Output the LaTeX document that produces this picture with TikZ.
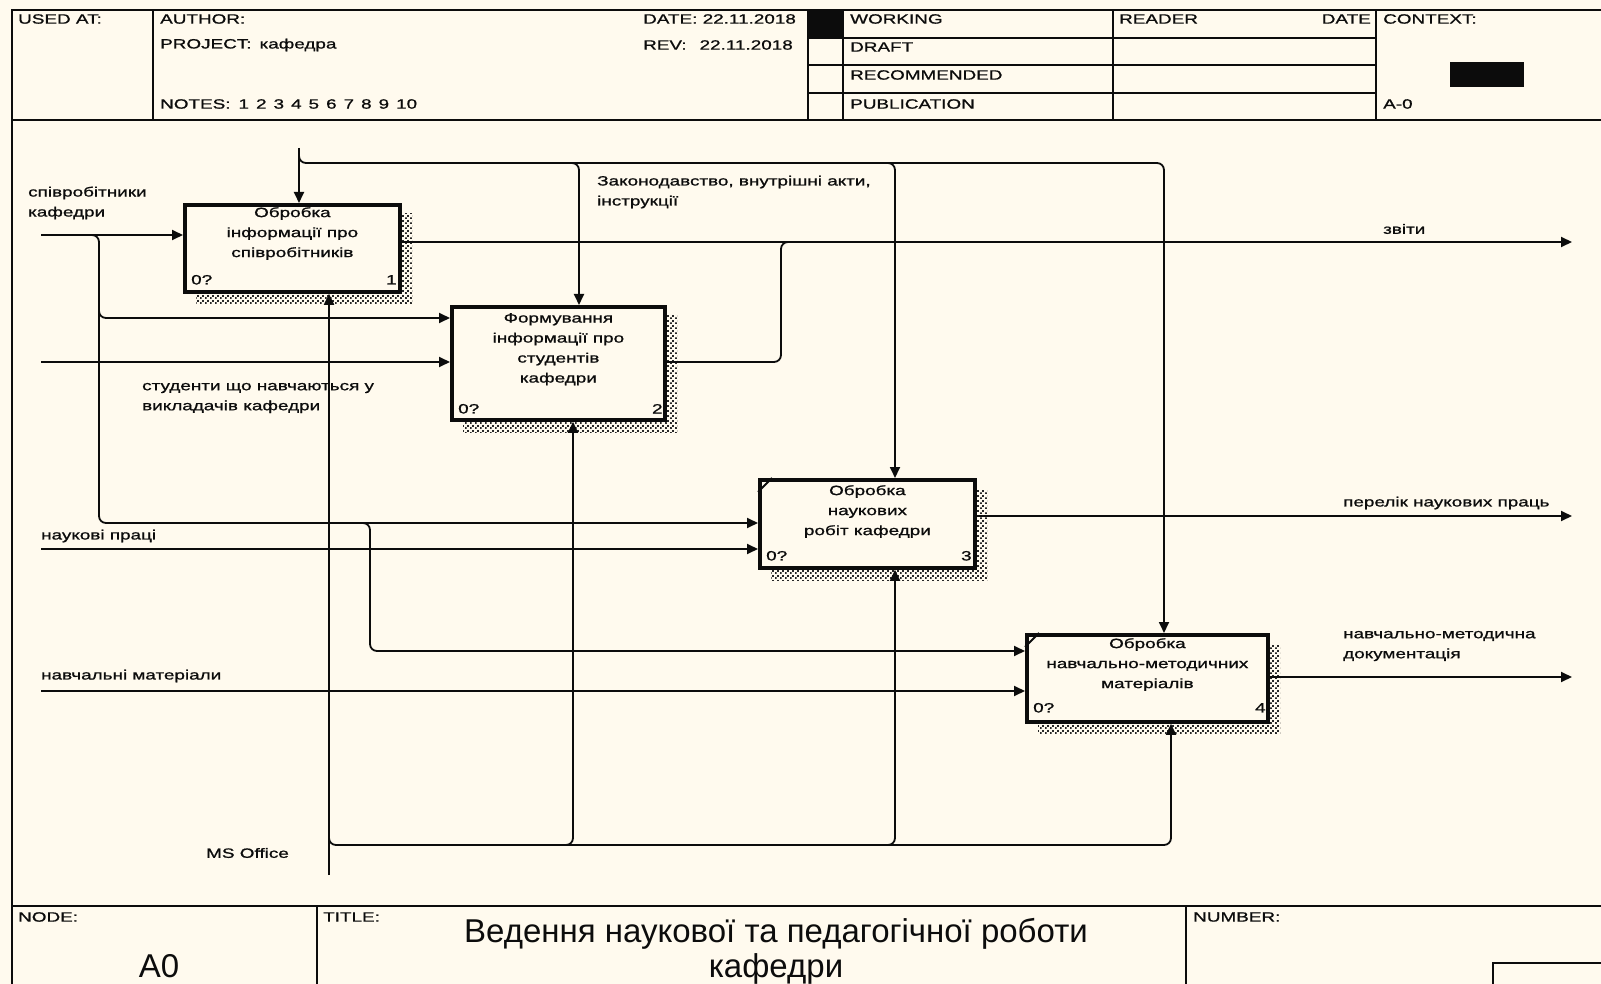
\documentclass[tikz,border=0pt]{standalone}
\usepackage{fontspec}
\setmainfont{Liberation Sans}
\newfontfamily\idf[FakeStretch=1.4,FakeBold=1]{Liberation Sans}
\usetikzlibrary{arrows.meta,patterns,calc}
\definecolor{paper}{RGB}{255,250,238}
\definecolor{ink}{RGB}{12,12,12}
% diagonal dotted shading used for the box shadows
\pgfdeclarepatternformonly{idefshade}{\pgfpointorigin}{\pgfqpoint{5pt}{5pt}}{\pgfqpoint{5pt}{5pt}}{%
  \pgfpathrectangle{\pgfqpoint{0pt}{0pt}}{\pgfqpoint{2pt}{2pt}}%
  \pgfpathrectangle{\pgfqpoint{2.5pt}{2.5pt}}{\pgfqpoint{2pt}{2pt}}%
  \pgfusepath{fill}}
\begin{document}
\begin{tikzpicture}[x=1pt,y=-1pt,
  txt/.style={font=\idf\fontsize{13.5}{20}\selectfont, inner sep=0pt, text=ink},
  lbl/.style={txt, anchor=west, align=left},
  rule/.style={draw=ink, line width=2.2pt},
  proc/.style={draw=ink, line width=3.8pt, fill=paper, anchor=north west, inner sep=0pt},
  shade/.style={pattern=idefshade, pattern color=black!85},
  ln/.style={draw=ink, line width=1.8pt},
  arr/.style={ln, -{Triangle[length=11pt,width=10pt]}},
  rc/.style={rounded corners=7pt}]

% sheet
\useasboundingbox (0,0) rectangle (1601,984);
\fill[paper] (0,0) rectangle (1601,984);

% ---------- header block ----------
\draw[rule] (1601,10) -- (12,10) -- (12,984);
\draw[rule] (12,120) -- (1601,120);
\draw[rule] (153,10) -- (153,120);
\draw[rule] (808,10) -- (808,120);
\draw[rule] (843,10) -- (843,120);
\draw[rule] (1113,10) -- (1113,120);
\draw[rule] (1376,10) -- (1376,120);
\foreach \yy in {38,65,93} \draw[rule] (808,\yy) -- (1376,\yy);
\fill[ink] (808,10) rectangle (843,38);
\fill[ink] (1450,62) rectangle (1524,87);

\node[lbl] (usedat) at (18,19) {USED AT:};
\node[lbl] (author) at (160,19) {AUTHOR:};
\node[lbl] (project) at (160,45) {PROJECT:\hspace{8pt}кафедра};
\node[lbl] (notes) at (160,104) {NOTES:\hspace{8pt}1\hspace{7pt}2\hspace{7pt}3\hspace{7pt}4\hspace{7pt}5\hspace{7pt}6\hspace{7pt}7\hspace{7pt}8\hspace{7pt}9\hspace{7pt}10};
\node[lbl] (date) at (643,19) {DATE: 22.11.2018};
\node[lbl] (rev) at (643,45) {REV:\hspace{13pt}22.11.2018};
\node[lbl] (working) at (850,19) {WORKING};
\node[lbl] (draft) at (850,47) {DRAFT};
\node[lbl] (recom) at (850,75) {RECOMMENDED};
\node[lbl] (public) at (850,104) {PUBLICATION};
\node[lbl] (reader) at (1119,19) {READER};
\node[txt, anchor=east] (rdate) at (1371,19) {DATE};
\node[lbl] (context) at (1383,19) {CONTEXT:};
\node[lbl] (ctxnode) at (1383,104) {A-0};

% ---------- footer block ----------
\draw[rule] (12,906) -- (1601,906);
\draw[rule] (317,906) -- (317,984);
\draw[rule] (1186,906) -- (1186,984);
\draw[rule] (1493,984) -- (1493,963) -- (1601,963);
\node[lbl] (nodehd) at (18,917) {NODE:};
\node[lbl] (titlehd) at (323,917) {TITLE:};
\node[lbl] (numhd) at (1193,917) {NUMBER:};
\node[inner sep=0pt, font=\fontsize{33}{36}\selectfont, text=ink] (nodeno) at (159,966) {A0};
\node[inner sep=0pt, font=\fontsize{33}{35}\selectfont, text=ink, align=center, anchor=north] (title) at (776,918)
  {Ведення наукової та педагогічної роботи\\кафедри};

% ---------- activity boxes ----------
\fill[shade] (398,214) rectangle (412,304);
\fill[shade] (196,290) rectangle (412,304);
\fill[shade] (663,316) rectangle (677,432);
\fill[shade] (463,418) rectangle (677,432);
\fill[shade] (973,489) rectangle (987,580);
\fill[shade] (771,566) rectangle (987,580);
\fill[shade] (1266,644) rectangle (1280,734);
\fill[shade] (1038,720) rectangle (1280,734);

\node[proc, minimum width=215pt, minimum height=87pt] (b1) at (183,203) {};
\node[proc, minimum width=213pt, minimum height=113pt] (b2) at (450,305) {};
\node[proc, minimum width=215pt, minimum height=88pt] (b3) at (758,478) {};
\node[proc, minimum width=241pt, minimum height=87pt] (b4) at (1025,633) {};
\draw[ln] ($(b3.north west)+(0,14)$) -- ($(b3.north west)+(14,0)$);
\draw[ln] ($(b4.north west)+(0,14)$) -- ($(b4.north west)+(14,0)$);

\node[txt, align=center, anchor=north] (b1t) at ($(b1.north)+(0,4)$) {Обробка\\інформації про\\співробітників};
\node[txt, align=center, anchor=north] (b2t) at ($(b2.north)+(0,8)$) {Формування\\інформації про\\студентів\\кафедри};
\node[txt, align=center, anchor=north] (b3t) at ($(b3.north)+(0,7)$) {Обробка\\наукових\\робіт кафедри};
\node[txt, align=center, anchor=north] (b4t) at ($(b4.north)+(0,5)$) {Обробка\\навчально-методичних\\матеріалів};

\node[lbl] (b1c) at ($(b1.south west)+(8,-14)$) {0?};
\node[txt, anchor=east] (b1n) at ($(b1.south east)+(-5,-14)$) {1};
\node[lbl] (b2c) at ($(b2.south west)+(8,-13)$) {0?};
\node[txt, anchor=east] (b2n) at ($(b2.south east)+(-4,-13)$) {2};
\node[lbl] (b3c) at ($(b3.south west)+(8,-14)$) {0?};
\node[txt, anchor=east] (b3n) at ($(b3.south east)+(-5,-14)$) {3};
\node[lbl] (b4c) at ($(b4.south west)+(8,-16)$) {0?};
\node[txt, anchor=east] (b4n) at ($(b4.south east)+(-4,-16)$) {4};

% ---------- controls ----------
\coordinate (ctl) at (299,148);
\coordinate (c2) at (579,163);
\coordinate (c3) at (895,163);
\coordinate (c4) at (1164,163);
\draw[arr] (ctl) -- (ctl |- b1.north);
\draw[arr, rc] (299,152) |- (c4) -- (c4 |- b4.north);
\draw[arr, rc] (560,163) -| (c2 |- b2.north);
\draw[arr, rc] (876,163) -| (c3 |- b3.north);
\node[lbl] (lawlbl) at (597,192) {Законодавство, внутрішні акти,\\інструкції};

% ---------- inputs ----------
\coordinate (in1) at (41,235);
\coordinate (in2) at (41,362);
\coordinate (in3) at (41,549);
\coordinate (in4) at (41,691);
\coordinate (y318) at (0,318);
\coordinate (y523) at (0,523);
\coordinate (y651) at (0,651);
\draw[arr] (in1) -- (in1 -| b1.west);
\draw[arr, rc] (88,235) -| (99,420) |- (y523 -| b3.west);
\draw[arr, rc] (99,300) |- (y318 -| b2.west);
\draw[arr] (in2) -- (in2 -| b2.west);
\draw[arr] (in3) -- (in3 -| b3.west);
\draw[arr, rc] (356,523) -| (370,600) |- (y651 -| b4.west);
\draw[arr] (in4) -- (in4 -| b4.west);
\node[lbl] (stafflbl) at (28,203) {співробітники\\кафедри};
\node[lbl] (studlbl) at (142,398) {студенти що навчаються у\\викладачів кафедри};
\node[lbl] (scilbl) at (41,536) {наукові праці};
\node[lbl] (edulbl) at (41,676) {навчальні матеріали};

% ---------- outputs ----------
\coordinate (out1) at (1572,242);
\coordinate (out3) at (1572,516);
\coordinate (out4) at (1572,677);
\coordinate (y362) at (0,362);
\draw[arr] (b1.east |- out1) -- (out1);
\draw[ln, rc] (b2.east |- y362) -| (781,242) -- (800,242);
\draw[arr] (b3.east |- out3) -- (out3);
\draw[arr] (b4.east |- out4) -- (out4);
\node[lbl] (replbl) at (1383,229) {звіти};
\node[lbl] (listlbl) at (1343,503) {перелік наукових праць};
\node[lbl] (doclbl) at (1343,646) {навчально-методична\\документація};

% ---------- mechanisms ----------
\coordinate (mech) at (329,875);
\coordinate (m2) at (573,845);
\coordinate (m3) at (895,845);
\coordinate (m4) at (1171,845);
\draw[arr] (mech) -- (mech |- b1.south);
\draw[arr, rc] (329,830) |- (m4) -- (m4 |- b4.south);
\draw[arr, rc] (552,845) -| (m2 |- b2.south);
\draw[arr, rc] (874,845) -| (m3 |- b3.south);
\node[lbl] (mslbl) at (206,853) {MS Office};
\end{tikzpicture}
\end{document}
